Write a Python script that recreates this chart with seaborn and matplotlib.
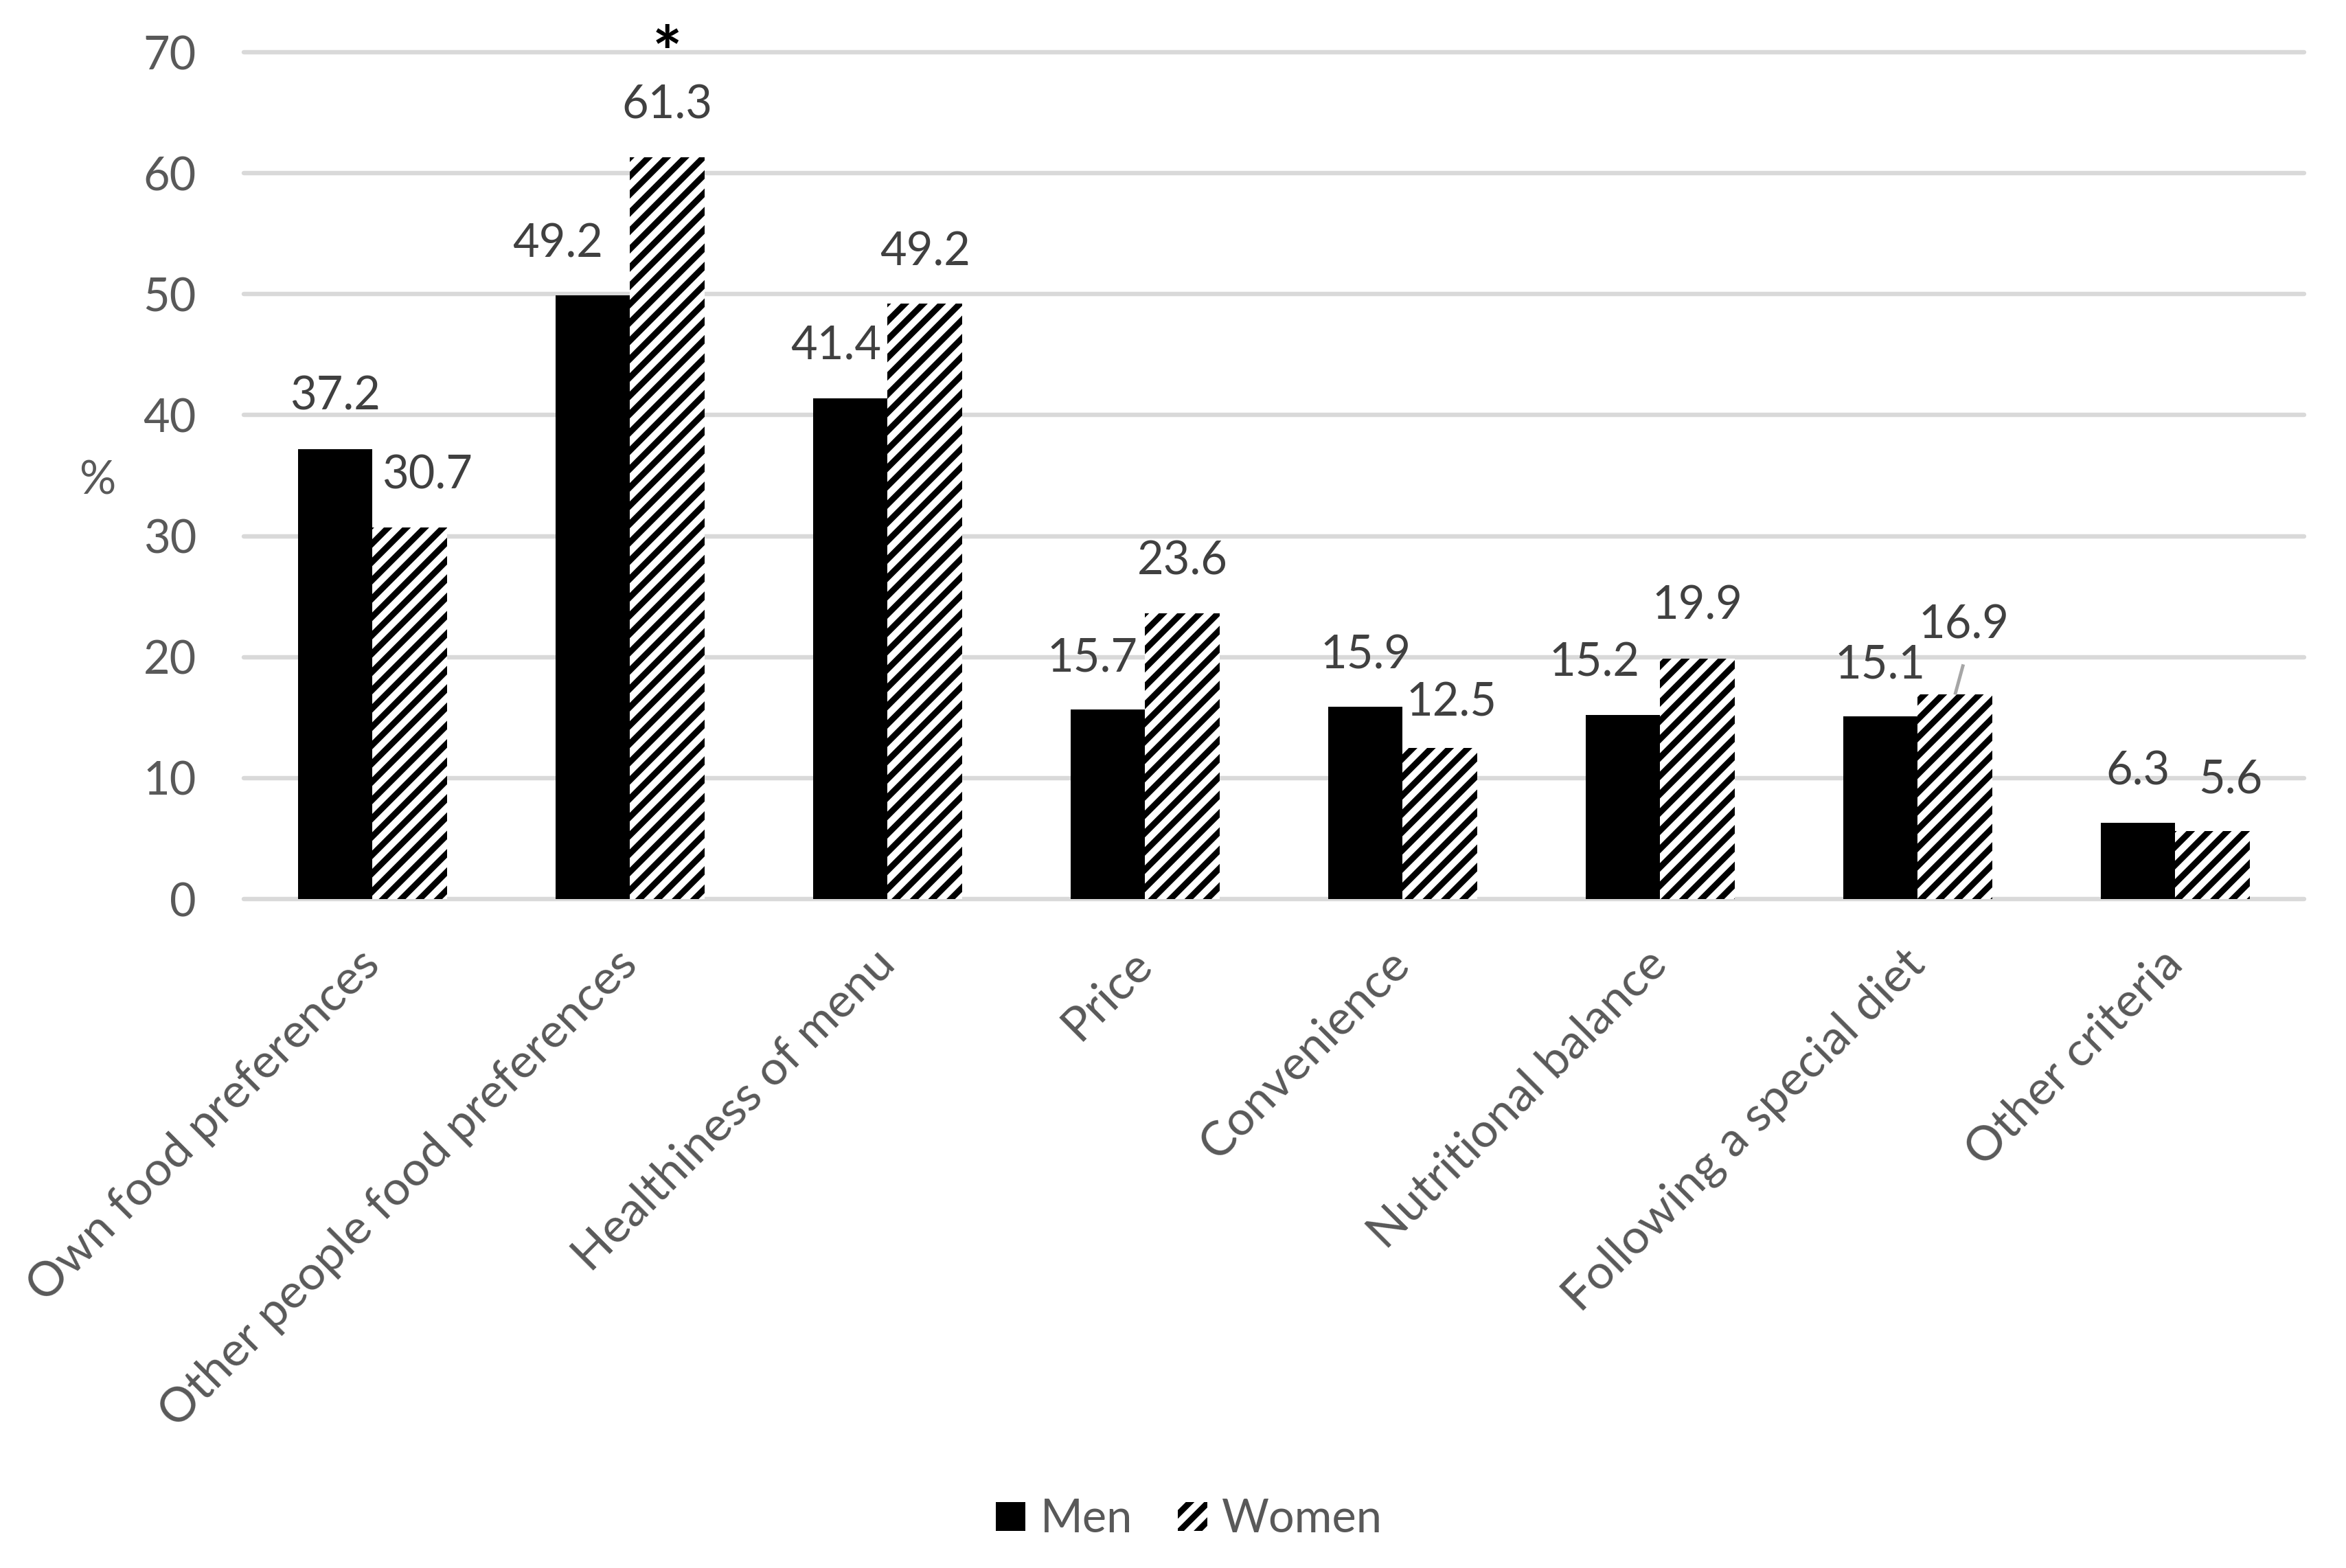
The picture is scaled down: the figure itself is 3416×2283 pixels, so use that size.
import matplotlib
matplotlib.use('Agg')
import matplotlib.pyplot as plt
import pandas as pd
import seaborn as sns
from matplotlib.patches import Patch

# Data
categories = ['Own food preferences', 'Other people food preferences', 'Healthiness of menu',
              'Price', 'Convenience', 'Nutritional balance', 'Following a special diet',
              'Other criteria']
men = [37.2, 49.9, 41.4, 15.7, 15.9, 15.2, 15.1, 6.3]
women = [30.7, 61.3, 49.2, 23.6, 12.5, 19.9, 16.9, 5.6]
men_labels = ['37.2', '49.2', '41.4', '15.7', '15.9', '15.2', '15.1', '6.3']
women_labels = ['30.7', '61.3', '49.2', '23.6', '12.5', '19.9', '16.9', '5.6']
groups = ['Men', 'Women']
y_ticks = [0, 10, 20, 30, 40, 50, 60, 70]

# label placement: shift from bar centre (category units) and label centre height (%)
men_lab_dx = [0, -0.136, -0.056, -0.06, 0, -0.11, 0, 0]
men_lab_y = [41.8, 54.4, 46.0, 20.2, 20.4, 19.8, 19.6, 10.8]
women_lab_dx = [0.067, 0, 0, 0, 0.045, 0, 0.035, 0.07]
women_lab_y = [35.3, 65.9, 53.7, 28.2, 16.5, 24.5, 22.9, 10.1]

df = pd.DataFrame({
    'criterion': categories * 2,
    'sex': [groups[0]] * len(men) + [groups[1]] * len(women),
    'value': men + women,
})

DPI = 160
FS = 30
TICK_COLOR = '#595959'
LABEL_COLOR = '#404040'
GRID_COLOR = '#D9D9D9'

sns.set_theme(style='white')
plt.rcParams['font.family'] = ['Lato', 'DejaVu Sans']
plt.rcParams['hatch.linewidth'] = 4.0
plt.rcParams['hatch.color'] = 'black'

fig = plt.figure(figsize=(3416 / DPI, 2283 / DPI), dpi=DPI)
ax = fig.add_axes([0.1039, 0.4266, 0.8782, 0.5401])

sns.barplot(data=df, x='criterion', y='value', hue='sex',
            palette={'Men': 'black', 'Women': 'white'}, saturation=1,
            width=0.58, legend=False, ax=ax)

for bar in ax.containers[0]:
    bar.set_linewidth(0)
    bar.set_edgecolor('black')
for bar in ax.containers[1]:
    bar.set_facecolor('white')
    bar.set_edgecolor('black')
    bar.set_hatch('//')
    bar.set_linewidth(0)

# value labels
half_digit = 1.35
for bars, labs, dxs, ys in [(ax.containers[0], men_labels, men_lab_dx, men_lab_y),
                            (ax.containers[1], women_labels, women_lab_dx, women_lab_y)]:
    for bar, lab, dx, y in zip(bars, labs, dxs, ys):
        cx = bar.get_x() + bar.get_width() / 2
        ax.text(cx + dx, y - half_digit, lab, ha='center', va='baseline',
                fontsize=FS, color=LABEL_COLOR, clip_on=False)

# significance star on women / other people
star_bar = ax.containers[1][1]
ax.text(star_bar.get_x() + star_bar.get_width() / 2, 67.9, '*', ha='center', va='baseline',
        fontsize=46, fontweight='bold', color='black', clip_on=False)

# leader line for 16.9
lead_bar = ax.containers[1][6]
lx = lead_bar.get_x() + lead_bar.get_width() / 2
ax.plot([lx + 0.032, lx], [19.4, 16.9], color='#A6A6A6', lw=2.2, solid_capstyle='butt')

# axes styling
ax.set_xlim(-0.5, len(categories) - 0.5)
ax.set_ylim(0, 70)
ax.set_yticks(y_ticks)
ax.set_xlabel('')
ax.set_ylabel('')
ax.grid(axis='y', color=GRID_COLOR, lw=2.9)
ax.set_axisbelow(True)
for line in ax.get_ygridlines():
    line.set_clip_on(False)
for s in ax.spines.values():
    s.set_visible(False)

ax.tick_params(axis='y', length=0, pad=31, labelsize=FS, labelcolor=TICK_COLOR)
ax.tick_params(axis='x', length=0, pad=38, labelsize=31.5, labelcolor=TICK_COLOR)
for lab in ax.get_xticklabels():
    lab.set_rotation(45)
    lab.set_ha('right')
    lab.set_va('center')
    lab.set_rotation_mode('anchor')

fig.text(142 / 3416, 1 - 700 / 2283, '%', ha='center', va='center',
         fontsize=FS, color=TICK_COLOR)

handles = [Patch(facecolor='black', edgecolor='black', lw=0),
           Patch(facecolor='white', edgecolor='black', hatch='//', lw=0)]
fig.legend(handles=handles, labels=groups, loc='center', bbox_to_anchor=(0.507, 0.031),
           ncol=2, frameon=False, fontsize=FS, handlelength=0.64, handleheight=0.6,
           handletextpad=0.32, columnspacing=1.0, labelcolor=TICK_COLOR)

fig.savefig('out.png', dpi=DPI)
